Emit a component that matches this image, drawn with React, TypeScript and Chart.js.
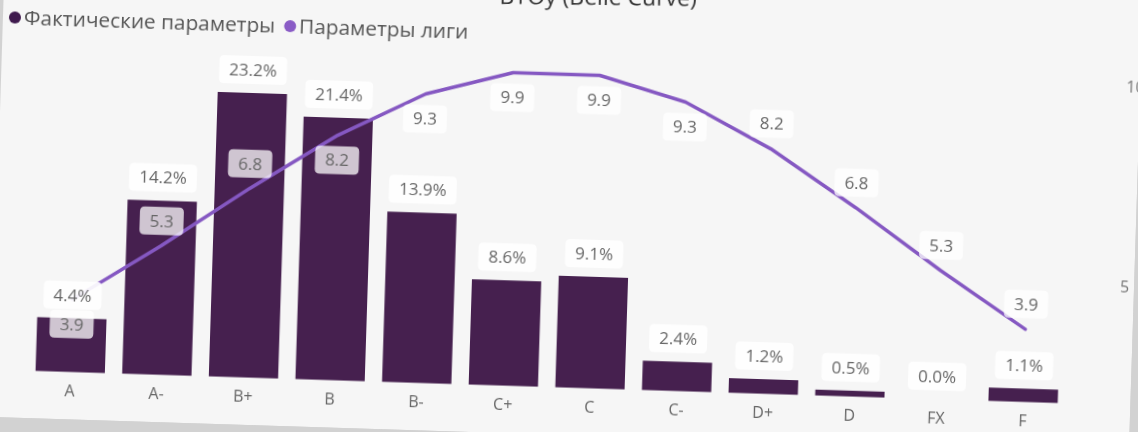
import React, { useEffect, useRef } from "react";
import { Chart, registerables } from "chart.js";

Chart.register(...registerables);

// ---- data ----
const categories = ["A", "A-", "B+", "B", "B-", "C+", "C", "C-", "D+", "D", "FX", "F"];
const actualShare = [4.4, 14.2, 23.2, 21.4, 13.9, 8.6, 9.1, 2.4, 1.2, 0.5, 0.0, 1.1];
const leagueParams = [3.9, 5.3, 6.8, 8.2, 9.3, 9.9, 9.9, 9.3, 8.2, 6.8, 5.3, 3.9];
const rightAxisTicks = [5, 10];
const seriesNames = ["Фактические параметры", "Параметры лиги"];
const titleText = "BYOy (Belle Curve)";
// 1 = label under the point, -1 = label over the point
const lineLabelSide = [1, -1, -1, 1, 1, 1, 1, 1, -1, -1, -1, -1];

// ---- style ----
const BAR_COLOR = "#46204F";
const LINE_COLOR = "#8558C2";
const FONT = "'Open Sans', 'Noto Sans', sans-serif";
const TEXT_GREY = "#666666";

function boxPath(ctx: CanvasRenderingContext2D, x: number, y: number, w: number, h: number, r: number) {
  ctx.beginPath();
  ctx.moveTo(x + r, y);
  ctx.lineTo(x + w - r, y);
  ctx.quadraticCurveTo(x + w, y, x + w, y + r);
  ctx.lineTo(x + w, y + h - r);
  ctx.quadraticCurveTo(x + w, y + h, x + w - r, y + h);
  ctx.lineTo(x + r, y + h);
  ctx.quadraticCurveTo(x, y + h, x, y + h - r);
  ctx.lineTo(x, y + r);
  ctx.quadraticCurveTo(x, y, x + r, y);
  ctx.closePath();
}

function drawTag(ctx: CanvasRenderingContext2D, text: string, cx: number, cy: number, fill: string) {
  ctx.font = `17px ${FONT}`;
  const w = ctx.measureText(text).width + 20;
  const h = 28;
  boxPath(ctx, cx - w / 2, cy - h / 2, w, h, 5);
  ctx.fillStyle = fill;
  ctx.fill();
  ctx.fillStyle = TEXT_GREY;
  ctx.textAlign = "center";
  ctx.textBaseline = "middle";
  ctx.fillText(text, cx, cy + 1);
}

const labelsPlugin = {
  id: "valueTags",
  afterDatasetsDraw(chart: any) {
    const ctx: CanvasRenderingContext2D = chart.ctx;
    ctx.save();
    const barMeta = chart.getDatasetMeta(0);
    barMeta.data.forEach((el: any, i: number) => {
      const v = chart.data.datasets[0].data[i] as number;
      drawTag(ctx, v.toFixed(1) + "%", el.x, el.y - 23, "rgba(255,255,255,0.92)");
    });
    const lineMeta = chart.getDatasetMeta(1);
    lineMeta.data.forEach((el: any, i: number) => {
      const v = chart.data.datasets[1].data[i] as number;
      drawTag(ctx, v.toFixed(1), el.x, el.y + lineLabelSide[i] * 25, "rgba(255,255,255,0.74)");
    });
    ctx.restore();
  },
};

const legendTitlePlugin = {
  id: "legendTitle",
  afterDraw(chart: any) {
    const ctx: CanvasRenderingContext2D = chart.ctx;
    ctx.save();
    // title (mostly outside the visible area, as in the photo)
    ctx.save();
    ctx.translate(693, 42);
    ctx.rotate((-1.2 * Math.PI) / 180);
    ctx.font = `23px ${FONT}`;
    ctx.fillStyle = "#333333";
    ctx.textAlign = "right";
    ctx.textBaseline = "alphabetic";
    ctx.fillText(titleText, 0, 0);
    ctx.restore();
    // legend
    ctx.font = `20.8px ${FONT}`;
    ctx.textBaseline = "middle";
    ctx.textAlign = "left";
    let x = 12;
    const y = 75;
    chart.data.datasets.forEach((ds: any) => {
      ctx.beginPath();
      ctx.arc(x, y, 6, 0, Math.PI * 2);
      ctx.fillStyle = ds.legendColor;
      ctx.fill();
      ctx.fillStyle = "#555555";
      ctx.fillText(ds.label, x + 9, y + 1);
      x += 9 + ctx.measureText(ds.label).width + 15;
    });
    ctx.restore();
  },
};

export default function App() {
  const ref = useRef<HTMLCanvasElement>(null);

  useEffect(() => {
    if (!ref.current) return;
    const chart = new Chart(ref.current, {
      type: "bar",
      data: {
        labels: categories,
        datasets: [
          {
            type: "bar",
            label: seriesNames[0],
            data: actualShare,
            backgroundColor: BAR_COLOR,
            legendColor: "#3F1A4E",
            yAxisID: "y",
            order: 1,
            barPercentage: 0.8,
            categoryPercentage: 1,
          } as any,
          {
            type: "line",
            label: seriesNames[1],
            data: leagueParams,
            borderColor: LINE_COLOR,
            legendColor: "#8A5CC6",
            borderWidth: 3.5,
            tension: 0,
            pointRadius: 0,
            borderJoinStyle: "round",
            borderCapStyle: "round",
            yAxisID: "y1",
            order: 0,
          } as any,
        ],
      },
      options: {
        responsive: false,
        animation: false,
        devicePixelRatio: 1,
        layout: { padding: { left: 35, right: 0, top: 84, bottom: 8 } },
        plugins: {
          legend: { display: false },
          tooltip: { enabled: false },
          title: { display: false },
        },
        scales: {
          x: {
            grid: { display: false, drawTicks: false },
            border: { display: false },
            ticks: {
              color: TEXT_GREY,
              font: { family: FONT, size: 16 },
              padding: 10,
              maxRotation: 0,
              autoSkip: false,
            },
          },
          y: {
            display: false,
            min: 0,
            max: 28,
          },
          y1: {
            position: "right",
            min: 2.08,
            max: 10.66,
            grid: { display: false },
            border: { display: false },
            ticks: {
              color: "#777777",
              font: { family: FONT, size: 16 },
              padding: 42,
            },
            afterBuildTicks: (s: any) => {
              s.ticks = rightAxisTicks.map((v) => ({ value: v }));
            },
            afterFit: (s: any) => {
              s.width = 64;
              s.paddingTop = 0;
              s.paddingBottom = 0;
            },
          },
        },
      },
      plugins: [labelsPlugin, legendTitlePlugin],
    });
    return () => chart.destroy();
  }, []);

  return (
    <div
      style={{
        position: "fixed",
        left: 0,
        top: 0,
        width: 1138,
        height: 432,
        overflow: "hidden",
        background: "#d2d2d2",
      }}
    >
      <canvas
        ref={ref}
        width={1139}
        height={475}
        style={{
          position: "absolute",
          left: -3,
          top: -40,
          width: 1139,
          height: 475,
          background: "#F6F6F6",
          transform: "rotate(1.8deg)",
          transformOrigin: "572px 256px",
        }}
      />
    </div>
  );
}
